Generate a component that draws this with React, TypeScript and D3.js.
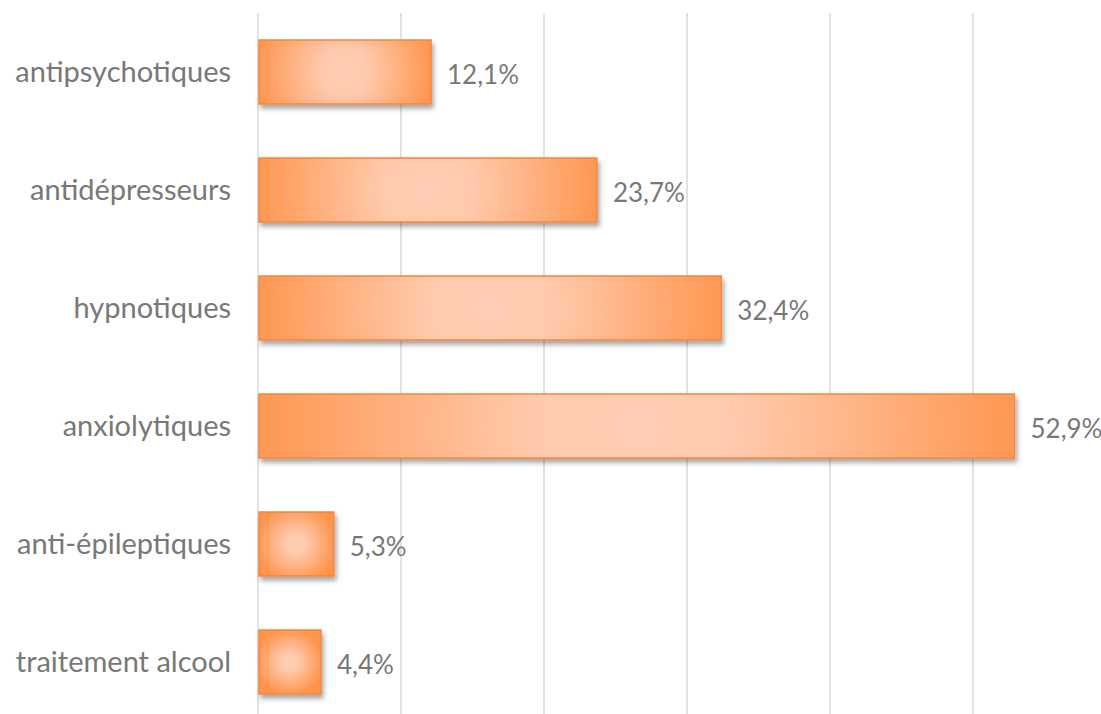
import React, { useRef, useEffect } from "react";
import * as d3 from "d3";

const categories = [
  "antipsychotiques",
  "antidépresseurs",
  "hypnotiques",
  "anxiolytiques",
  "anti-épileptiques",
  "traitement alcool",
];
const values = [12.1, 23.7, 32.4, 52.9, 5.3, 4.4];
const gridTicks = [0, 10, 20, 30, 40, 50];

const App = () => {
  const svgRef = useRef<SVGSVGElement>(null);

  useEffect(() => {
    const svg = d3.select(svgRef.current);
    svg.selectAll("*").remove();
    const width = 1101;
    const height = 714;

    const x = d3.scaleLinear().domain([0, 10]).range([258, 401]);
    const y = d3
      .scaleBand()
      .domain(categories)
      .range([13, 721])
      .paddingInner(0.458)
      .paddingOuter(0.229);

    const data = categories.map((c, i) => ({ name: c, value: values[i], i }));

    const defs = svg.append("defs");

    // one radial gradient per bar, sized on the bar's width
    data.forEach((d) => {
      const x0 = x(0);
      const x1 = x(d.value);
      const cy = y(d.name)! + y.bandwidth() / 2;
      const w = x1 - x0;
      const r = Math.max(w / 2, y.bandwidth() / 2) * 1.05;
      const g = defs
        .append("radialGradient")
        .attr("id", `barGrad${d.i}`)
        .attr("gradientUnits", "userSpaceOnUse")
        .attr("cx", x0 + w * 0.5)
        .attr("cy", cy)
        .attr("r", r);
      g.append("stop").attr("offset", "0%").attr("stop-color", "#ffceb3");
      g.append("stop").attr("offset", "25%").attr("stop-color", "#ffcaad");
      g.append("stop").attr("offset", "100%").attr("stop-color", "#ff944c");
    });

    const shadow = defs
      .append("filter")
      .attr("id", "shadow")
      .attr("x", "-10%")
      .attr("y", "-20%")
      .attr("width", "130%")
      .attr("height", "150%");
    shadow
      .append("feDropShadow")
      .attr("dx", 2)
      .attr("dy", 4)
      .attr("stdDeviation", 2.5)
      .attr("flood-color", "#000")
      .attr("flood-opacity", 0.35);

    // Gridlines
    svg
      .append("g")
      .selectAll("line")
      .data(gridTicks)
      .join("line")
      .attr("x1", (d) => x(d))
      .attr("x2", (d) => x(d))
      .attr("y1", 13)
      .attr("y2", height)
      .attr("stroke", "#d9d9d9")
      .attr("stroke-width", 1.5);

    // Bars
    svg
      .append("g")
      .selectAll("rect")
      .data(data)
      .join("rect")
      .attr("x", x(0) + 1)
      .attr("y", (d) => y(d.name)!)
      .attr("width", (d) => x(d.value) - x(0) - 1)
      .attr("height", y.bandwidth())
      .attr("fill", (d) => `url(#barGrad${d.i})`)
      .attr("stroke", "#f5863a")
      .attr("stroke-width", 1.5)
      .attr("filter", "url(#shadow)");

    // Category labels
    svg
      .append("g")
      .selectAll("text")
      .data(data)
      .join("text")
      .attr("x", 231)
      .attr("y", (d) => y(d.name)! + y.bandwidth() / 2)
      .attr("dy", "0.35em")
      .attr("text-anchor", "end")
      .attr("fill", "#787878")
      .style("font-family", "Lato, 'Open Sans', sans-serif")
      .style("font-size", "29px")
      .text((d) => d.name);

    // Value labels
    svg
      .append("g")
      .selectAll("text")
      .data(data)
      .join("text")
      .attr("x", (d) => x(d.value) + 16)
      .attr("y", (d) => y(d.name)! + y.bandwidth() / 2 + 3)
      .attr("dy", "0.35em")
      .attr("fill", "#787878")
      .style("font-family", "Lato, 'Open Sans', sans-serif")
      .style("font-size", "26px")
      .text((d) => d.value.toFixed(1).replace(".", ",") + "%");

    svg.attr("width", width).attr("height", height);
  }, []);

  return (
    <svg
      ref={svgRef}
      width={1101}
      height={714}
      style={{ position: "absolute", left: 0, top: 0, background: "#fff" }}
    ></svg>
  );
};

export default App;
